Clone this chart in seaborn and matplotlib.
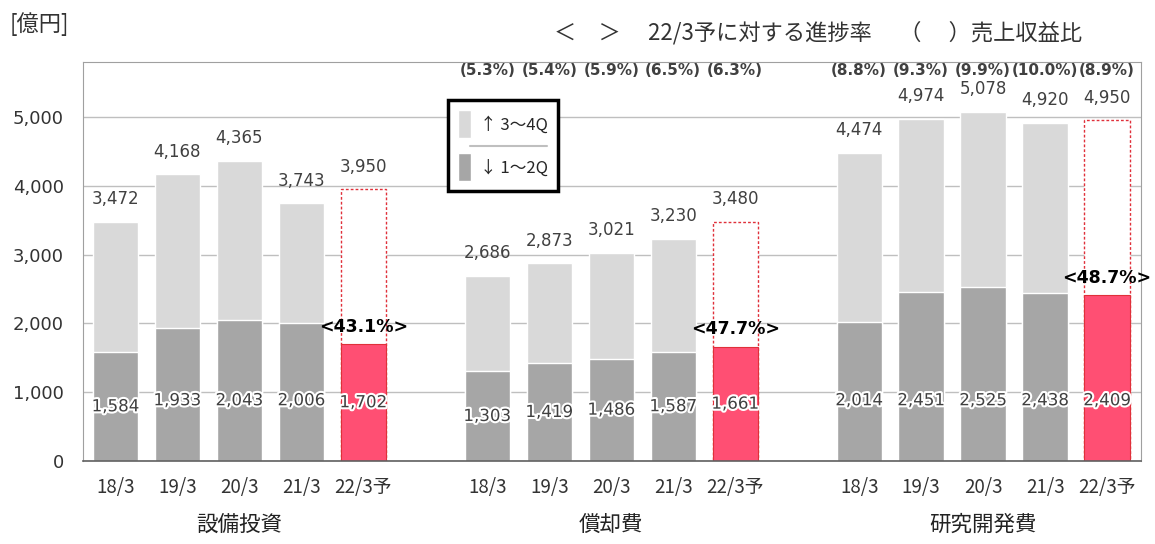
import pandas as pd
import seaborn as sns
import matplotlib.pyplot as plt
import matplotlib.patheffects as pe
from matplotlib.patches import Patch
from matplotlib.lines import Line2D

# data (億円)
groups = ["設備投資", "償却費", "研究開発費"]
periods = ["18/3", "19/3", "20/3", "21/3", "22/3予"]
capex_total = [3472, 4168, 4365, 3743, 3950]
capex_h1 = [1584, 1933, 2043, 2006, 1702]
dep_total = [2686, 2873, 3021, 3230, 3480]
dep_h1 = [1303, 1419, 1486, 1587, 1661]
rnd_total = [4474, 4974, 5078, 4920, 4950]
rnd_h1 = [2014, 2451, 2525, 2438, 2409]
progress = ["<43.1%>", "<47.7%>", "<48.7%>"]
dep_ratio = ["(5.3%)", "(5.4%)", "(5.9%)", "(6.5%)", "(6.3%)"]
rnd_ratio = ["(8.8%)", "(9.3%)", "(9.9%)", "(10.0%)", "(8.9%)"]

rows = []
for g, (tot, h1) in enumerate([(capex_total, capex_h1), (dep_total, dep_h1), (rnd_total, rnd_h1)]):
    for i, p in enumerate(periods):
        rows.append({"pos": g * 6 + i, "period": p, "group": groups[g],
                     "total": tot[i], "h1": h1[i], "forecast": i == len(periods) - 1})
df = pd.DataFrame(rows)

sns.set_style("white")
plt.rcParams['font.family'] = ['Noto Sans CJK JP', 'DejaVu Sans']

fig = plt.figure(figsize=(11.55, 5.44), dpi=100)
ax = fig.add_axes([0.072, 0.153, 0.916, 0.733])

sns.barplot(data=df, x="pos", y="total", hue="forecast", palette={False: "#D9D9D9", True: "white"},
            native_scale=True, dodge=False, width=0.73, errorbar=None, legend=False,
            saturation=1, ax=ax)
fc_pos = set(df.loc[df["forecast"], "pos"])
for bar in ax.patches:
    c = bar.get_x() + bar.get_width() / 2
    if round(c) in fc_pos:
        bar.set_edgecolor("#E0303A")
        bar.set_linestyle((0, (2, 1.5)))
        bar.set_linewidth(1.0)
n_top = len(ax.patches)

sns.barplot(data=df, x="pos", y="h1", hue="forecast", palette={False: "#A6A6A6", True: "#FF4F73"},
            native_scale=True, dodge=False, width=0.73, errorbar=None, legend=False,
            saturation=1, ax=ax)
for bar in ax.patches[n_top:]:
    c = bar.get_x() + bar.get_width() / 2
    if round(c) in fc_pos:
        bar.set_edgecolor("#E0303A")
        bar.set_linewidth(0.8)

ax.set_xlim(-0.52, 16.55)
ax.set_ylim(0, 5800)
ax.set_yticks(range(0, 5001, 1000))
ax.set_yticklabels([f"{v:,}" for v in range(0, 5001, 1000)], fontsize=13, color="#333333",
                   family="DejaVu Sans")
ax.set_xticks(df["pos"])
ax.set_xticklabels(df["period"], fontsize=13.5, color="#333333")
ax.tick_params(length=0, pad=12)
ax.tick_params(axis="y", pad=14)
ax.set_xlabel("")
ax.set_ylabel("")
ax.grid(axis="y", color="#BFBFBF", lw=1)
ax.set_axisbelow(True)
for s in ["top", "right", "left"]:
    ax.spines[s].set_color("#A0A0A0")
ax.spines["bottom"].set_color("#606060")
ax.spines["bottom"].set_linewidth(1.2)

# value labels
for _, r in df.iterrows():
    ax.text(r["pos"], r["total"] + 330, f"{r['total']:,}", ha="center", va="center",
            fontsize=12, color="#404040", family="DejaVu Sans")
    ax.text(r["pos"], min(r["h1"] / 2, 880), f"{r['h1']:,}", ha="center", va="center",
            fontsize=12, color="#404040", family="DejaVu Sans",
            path_effects=[pe.withStroke(linewidth=3, foreground="white")])

fc = df[df["forecast"]].reset_index(drop=True)
for i, r in fc.iterrows():
    ax.text(r["pos"], r["h1"] + 250, progress[i], ha="center", va="center",
            fontsize=12.5, fontweight="bold", color="black", family="DejaVu Sans")

for g, ratios in [(1, dep_ratio), (2, rnd_ratio)]:
    for i, t in enumerate(ratios):
        ax.text(g * 6 + i, 5680, t, ha="center", va="center", fontsize=11,
                fontweight="bold", color="#404040", family="DejaVu Sans")

# group names
for g, name in enumerate(groups):
    ax.text(g * 6 + 2, -0.16, name, transform=ax.get_xaxis_transform(), ha="center", va="center",
            fontsize=15.5, color="#222222")

# legend
handles = [Patch(facecolor="#D9D9D9", label="↑ 3～4Q"), Patch(facecolor="#A6A6A6", label="↓ 1～2Q")]
leg = ax.legend(handles=handles, loc="upper left", bbox_to_anchor=(0.337, 0.925), fontsize=12,
                handlelength=0.8, handleheight=2.2, labelspacing=0.9, borderpad=0.6,
                handletextpad=0.5, fancybox=False, framealpha=1)
leg.get_frame().set_edgecolor("black")
leg.get_frame().set_linewidth(2.5)

# separator line inside legend
fig.canvas.draw()
bb = leg.get_window_extent().transformed(fig.transFigure.inverted())
ymid = (bb.y0 + bb.y1) / 2
fig.add_artist(Line2D([bb.x0 + 0.2 * bb.width, bb.x1 - 0.1 * bb.width], [ymid, ymid],
                      color="#BFBFBF", lw=1.5, transform=fig.transFigure, zorder=10))

fig.text(0.008, 0.955, "[億円]", fontsize=16, color="#333333", va="center")
fig.text(0.48, 0.94, "＜　＞　 22/3予に対する進捗率　 （　 ）売上収益比", fontsize=16,
         color="#333333", va="center")

plt.savefig("out.png", dpi=100)
plt.close()
